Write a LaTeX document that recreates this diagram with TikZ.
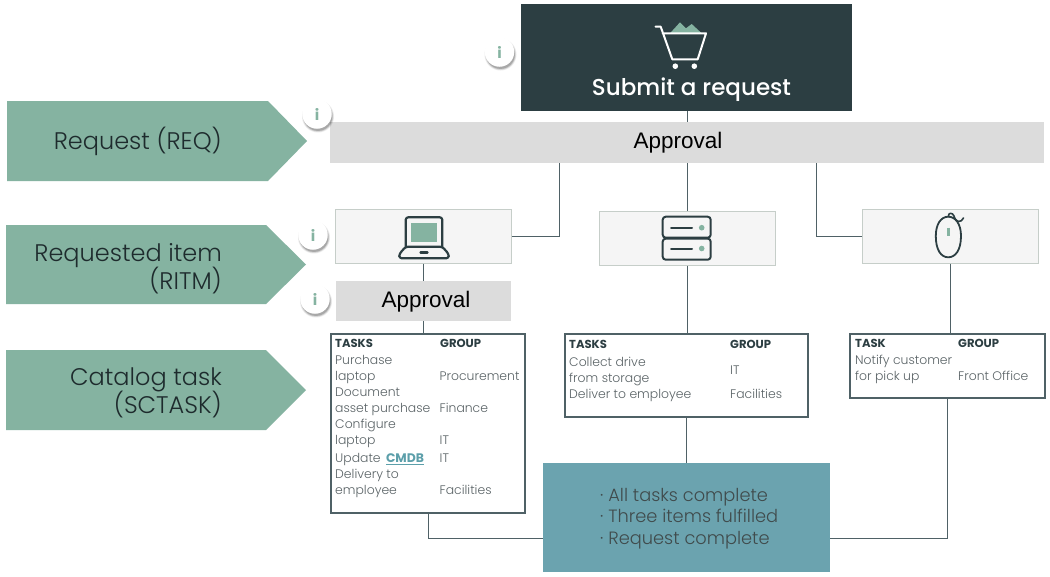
\documentclass[tikz,border=0pt]{standalone}
\usepackage{fontspec}
\setmainfont{Liberation Sans}
\newfontfamily\gothic{Poppins}
\newfontfamily\gothicL{Poppins Light}
\newfontfamily\gothicM{Poppins Medium}
\usetikzlibrary{calc}
\definecolor{sage}{HTML}{85B3A1}
\definecolor{darkbox}{HTML}{2C3E42}
\definecolor{barGray}{HTML}{DCDCDC}
\definecolor{lightBox}{HTML}{F5F5F5}
\definecolor{lightEdge}{HTML}{C6CEC9}
\definecolor{tealbox}{HTML}{6BA3AF}
\definecolor{ink}{HTML}{1E2B2D}
\definecolor{tasktext}{HTML}{5A6366}
\definecolor{linkteal}{HTML}{5C9FAA}
\definecolor{wire}{HTML}{4F6166}
\tikzset{
  x=1pt,y=-1pt,
  wirelink/.style={draw=wire,line width=1pt},
  chevron/.style={fill=sage,draw=none},
  chevlabel/.style={anchor=east,align=right,text=ink,font=\gothicL\fontsize{24}{27}\selectfont,inner sep=0pt},
  itembox/.style={draw=lightEdge,fill=lightBox,line width=1pt,inner sep=0pt,outer sep=0pt},
  taskbox/.style={draw=wire,fill=white,line width=1.3pt,inner sep=0pt,outer sep=0pt},
  ttxt/.style={anchor=base west,inner sep=0pt,text=tasktext,font=\gothicL\fontsize{12.4}{13}\selectfont},
  thead/.style={anchor=base west,inner sep=0pt,text=darkbox,font=\gothic\bfseries\fontsize{11.6}{13}\selectfont},
  icon/.style={draw=darkbox,line width=2pt,line join=round,line cap=round},
  apprtxt/.style={inner sep=0pt,text=black,font=\fontsize{22.5}{26}\selectfont},
}
\newcommand{\infodot}[3]{% name, x, y
  \foreach \r/\o in {16/0.08,15.2/0.12,14.4/0.18}{\fill[black,opacity=\o] (#2+1,#3+2.5) circle[radius=\r];}
  \node[circle,fill=white,minimum size=29.5pt,inner sep=0pt,text=sage,font=\gothic\bfseries\fontsize{15}{15}\selectfont] (#1) at (#2,#3) {i};}
\begin{document}
\begin{tikzpicture}
\useasboundingbox (0,0) rectangle (1050,576);
\fill[white] (0,0) rectangle (1050,576);

% Anchor coordinates for connectors
\coordinate (drop1) at (559,200);
\coordinate (drop2) at (816,200);
\coordinate (joinY) at (0,538);

% Main boxes
\node[fill=darkbox,minimum width=331.5pt,minimum height=107.5pt,inner sep=0pt,outer sep=0pt] (submit) at (686.25,57.25) {};
\node[fill=barGray,minimum width=714pt,minimum height=41pt,inner sep=0pt,outer sep=0pt] (approvalA) at (687,142.5) {};
\node[itembox,minimum width=176pt,minimum height=54pt] (laptop) at (423.5,236.5) {};
\node[fill=barGray,minimum width=175pt,minimum height=40pt,inner sep=0pt,outer sep=0pt] (approvalB) at (423.5,301) {};
\node[itembox,minimum width=175.5pt,minimum height=54.5pt] (server) at (687.25,238.25) {};
\node[itembox,minimum width=176pt,minimum height=54.5pt] (mouse) at (950,236.25) {};
\node[taskbox,minimum width=194pt,minimum height=179pt] (taskA) at (428,423.5) {};
\node[taskbox,minimum width=243pt,minimum height=83pt] (taskB) at (686.5,375.5) {};
\node[taskbox,minimum width=195pt,minimum height=64pt] (taskC) at (947.5,366) {};
\node[fill=tealbox,minimum width=286.5pt,minimum height=109pt,inner sep=0pt,outer sep=0pt] (done) at (686.25,517.5) {};

% Connectors
\draw[wirelink] (submit.south -| server.north) -- (approvalA.north -| server.north);
\draw[wirelink] (approvalA.south -| server.north) -- (server.north);
\draw[wirelink] (server.south) -- (taskB.north -| server.south);
\draw[wirelink] (taskB.south -| done.north) -- (done.north);
\draw[wirelink] (approvalA.south -| drop1) |- (laptop.east);
\draw[wirelink] (approvalA.south -| drop2) |- (mouse.west);
\draw[wirelink] (laptop.south) -- (approvalB.north);
\draw[wirelink] (approvalB.south) -- (taskA.north -| approvalB.south);
\draw[wirelink] (mouse.south) -- (taskC.north -| mouse.south);
\draw[wirelink] (taskA.south) |- (done.west |- joinY);
\draw[wirelink] (taskC.south) |- (done.east |- joinY);

% Chevrons
\fill[chevron] (7,101) -- (268,101) -- (307,141) -- (268,181) -- (7,181) -- cycle;
\fill[chevron] (6,225) -- (266,225) -- (306,264.5) -- (266,304) -- (6,304) -- cycle;
\fill[chevron] (6,350) -- (266,350) -- (306,390) -- (266,430) -- (6,430) -- cycle;
\node[chevlabel] (lblReq) at (222,141.5) {Request (REQ)};
\node[chevlabel] (lblRitm) at (222,268.5) {Requested item\\[-2pt](RITM)};
\node[chevlabel] (lblTask) at (222,392.5) {Catalog task\\[-2pt](SCTASK)};

% Main texts
\node[inner sep=0pt,text=white,font=\gothicM\fontsize{23}{27}\selectfont] (submitTxt) at (691.5,90) {Submit a request};
\node[apprtxt] (apprTxtA) at (678,142.5) {Approval};
\node[apprtxt] (apprTxtB) at (426,301.5) {Approval};
\node[anchor=west,align=left,inner sep=0pt,text=ink!85!white,font=\gothicL\fontsize{17.8}{21.3}\selectfont] (doneTxt) at (600,518.5) {· All tasks complete\\· Three items fulfilled\\· Request complete};

% Task A
\node[thead] (a0) at (335,347) {TASKS};
\node[thead] (a0g) at (440,347) {GROUP};
\node[ttxt] (a1) at (335,364) {Purchase};
\node[ttxt] (a2) at (335,380) {laptop};
\node[ttxt] (a2g) at (439.5,380) {Procurement};
\node[ttxt] (a3) at (335,396) {Document};
\node[ttxt] (a4) at (335,412) {asset purchase};
\node[ttxt] (a4g) at (439.5,412) {Finance};
\node[ttxt] (a5) at (335,428.5) {Configure};
\node[ttxt] (a6) at (335,444) {laptop};
\node[ttxt] (a6g) at (439.5,444) {IT};
\node[ttxt] (a7) at (335,462.5) {Update \hspace{2pt}\textcolor{linkteal}{\gothic\bfseries\underline{CMDB}}};
\node[ttxt] (a7g) at (439.5,462.5) {IT};
\node[ttxt] (a8) at (335,478) {Delivery to};
\node[ttxt] (a9) at (335,494.5) {employee};
\node[ttxt] (a9g) at (439.5,494.5) {Facilities};

% Task B
\node[thead] (b0) at (569,348) {TASKS};
\node[thead] (b0g) at (730,348) {GROUP};
\node[ttxt] (b1) at (569,366) {Collect drive};
\node[ttxt] (b2) at (569,382) {from storage};
\node[ttxt] (b2g) at (730,374) {IT};
\node[ttxt] (b3) at (569,398) {Deliver to employee};
\node[ttxt] (b3g) at (730,398) {Facilities};

% Task C
\node[thead] (c0) at (855,347) {TASK};
\node[thead] (c0g) at (958,347) {GROUP};
\node[ttxt] (c1) at (855,364) {Notify customer};
\node[ttxt] (c2) at (855,380) {for pick up};
\node[ttxt] (c2g) at (958,380) {Front Office};

% Cart icon
\fill[sage] (670,33.3) -- (680,22.3) -- (686,28.3) -- (691.7,24) -- (701.7,33.3) -- cycle;
\draw[white,line width=2pt,line join=round,line cap=round] (655.5,26.7) -- (660.7,26.7) -- (672.3,59.3) -- (697.7,59.3) -- (706,33.3) -- (662.6,33.3);
\fill[white] (675.3,66.2) circle[radius=2.8];
\fill[white] (694.3,66.2) circle[radius=2.8];

% Laptop icon
\fill[sage] (410.7,222.7) rectangle (437.3,242);
\draw[icon,line width=2.2pt,rounded corners=2.5pt] (405.7,246.7) -- (405.7,217.3) -- (442.3,217.3) -- (442.3,246.7);
\draw[icon,line width=2.2pt,rounded corners=2.5pt] (405.7,246.7) -- (399.3,254) -- (399.3,258.3) -- (448.7,258.3) -- (448.7,254) -- (442.3,246.7) -- cycle;
\draw[icon,line width=2.4pt] (420.5,252.5) -- (427.5,252.5);

% Server icon
\draw[icon,rounded corners=3pt] (662.7,216.7) rectangle (710.7,237.7);
\draw[icon,rounded corners=3pt] (662.7,238.6) rectangle (710.7,259.7);
\draw[icon] (671,227.7) -- (692,227.7);
\draw[icon] (671,248.5) -- (692,248.5);
\fill[sage] (701.7,227.7) circle[radius=2.8];
\fill[sage] (701.7,248.5) circle[radius=2.8];

% Mouse icon
\draw[icon,line width=1.8pt] (948.3,216.7) .. controls (955.5,216.7) and (961,224) .. (961,236) .. controls (961,250) and (955.5,257.3) .. (948.3,257.3) .. controls (941,257.3) and (935.8,250) .. (935.8,236) .. controls (935.8,224) and (941,216.7) .. (948.3,216.7) -- cycle;
\draw[icon,line width=1.6pt] (948.3,216.7) .. controls (948.3,212) and (952.5,212.5) .. (954,216) .. controls (956,223) and (961,223) .. (963.5,218);
\draw[sage,line width=3.4pt] (948.3,227.5) -- (948.3,235.5);

% Info dots
\infodot{infoA}{499.5}{52}
\infodot{infoB}{317}{114}
\infodot{infoC}{313}{235}
\infodot{infoD}{315}{299}
\end{tikzpicture}
\end{document}
